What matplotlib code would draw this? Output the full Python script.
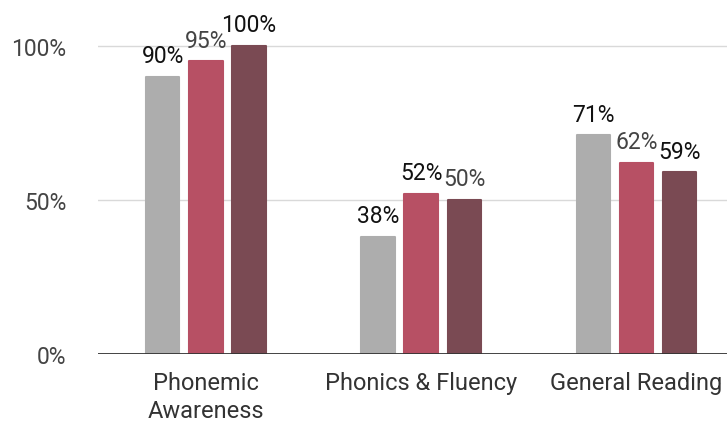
import numpy as np
import matplotlib; matplotlib.use("Agg")
import matplotlib.pyplot as plt
from matplotlib.ticker import PercentFormatter

# ---- data ----
categories = ["Phonemic\nAwareness", "Phonics & Fluency", "General Reading"]
series_a = [90, 38, 71]
series_b = [95, 52, 62]
series_c = [100, 50, 59]
label_colors = [["#111111", "#111111", "#111111"],
                ["#444444", "#111111", "#444444"],
                ["#111111", "#444444", "#111111"]]

COLORS = ["#adadad", "#b75064", "#7a4a53"]
plt.rcParams["font.family"] = ["Roboto", "DejaVu Sans"]

fig = plt.figure(figsize=(7.27, 4.35), dpi=100)
ax = fig.add_axes([0.135, 0.184, 0.865, 0.814])

x = np.arange(len(categories))
W, OFF = 0.155, 0.2
for k, (vals, col) in enumerate(zip([series_a, series_b, series_c], COLORS)):
    bars = ax.bar(x + (k - 1) * OFF, vals, W, color=col, edgecolor=col,
                  linewidth=1.5, joinstyle="round", zorder=3)
    for b, v, tc in zip(bars, vals, label_colors[k]):
        ax.annotate(f"{v}%", (b.get_x() + b.get_width() / 2, v), xytext=(0, 7),
                    textcoords="offset points", ha="center", va="bottom",
                    fontsize=16.5, color=tc, zorder=4, annotation_clip=False)

ax.set_xlim(-0.5, 2.42)
ax.set_ylim(0, 115)
ax.set_yticks([0, 50, 100])
ax.yaxis.set_major_formatter(PercentFormatter(decimals=0))
ax.grid(axis="y", color="#d9d9d9", lw=1, zorder=0)
ax.axhline(0, color="#333333", lw=2, zorder=5)
for s in ax.spines.values():
    s.set_visible(False)
ax.set_xticks(x)
ax.set_xticklabels(categories, fontsize=17, color="#333333", linespacing=1.3)
ax.tick_params(axis="x", length=0, pad=12)
ax.tick_params(axis="y", length=0, pad=23, labelsize=16.5, labelcolor="#444444")

plt.savefig("out.png", dpi=100)
